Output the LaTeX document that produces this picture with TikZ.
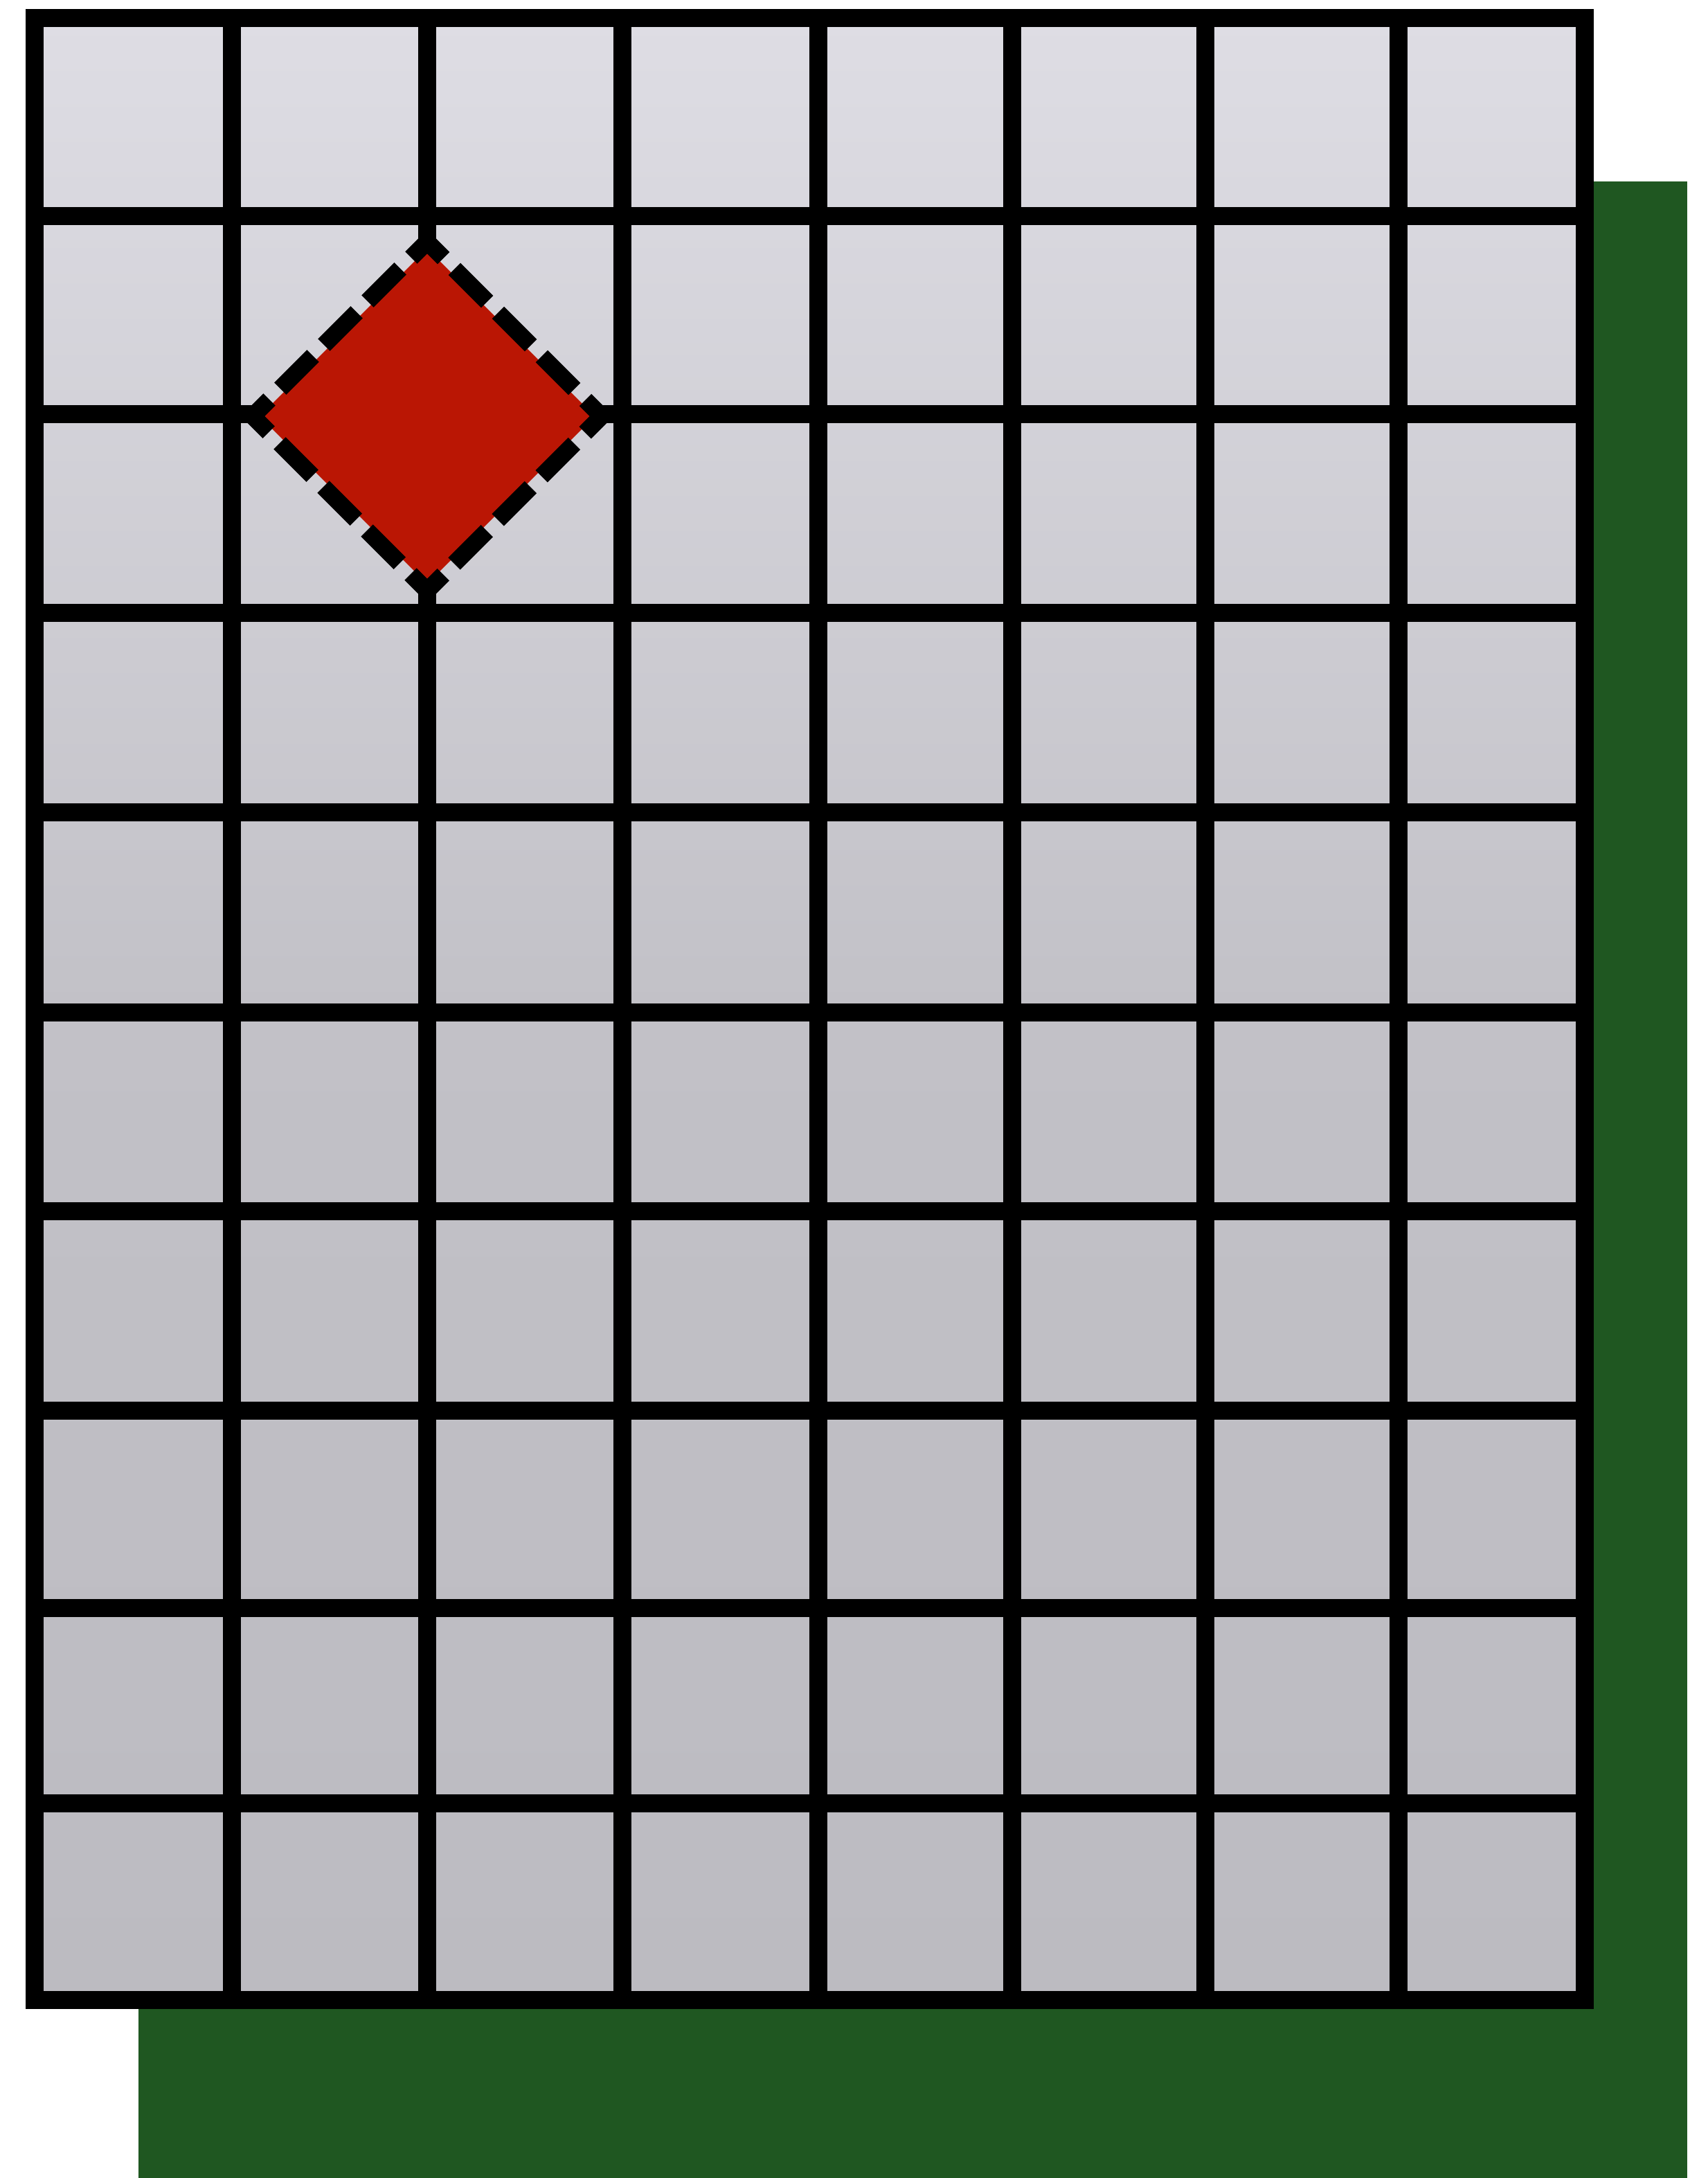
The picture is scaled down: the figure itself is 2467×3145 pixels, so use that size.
\documentclass[tikz,border=0pt]{standalone}
\begin{document}
\begin{tikzpicture}[x=0.01cm,y=-0.01cm,
  gridline/.style={line width=7.2pt,black},
  diamondline/.style={line width=7pt,black,dash pattern=on 19pt off 6.35pt,dash phase=9.5pt,line join=miter}]
\definecolor{leaf}{RGB}{31,87,33}
\definecolor{diamondred}{RGB}{186,22,4}
\definecolor{celltop}{RGB}{222,221,228}
\definecolor{cellmid}{RGB}{194,193,199}
\definecolor{cellbot}{RGB}{188,187,193}
\useasboundingbox (0,0) rectangle (2467,3145);
% green backing sheet
\fill[leaf] (200,262) rectangle (2437,3145);
% grey panel
\shade[top color=celltop,bottom color=cellbot,middle color=cellmid] (50,26) rectangle (2289,2888);
% grid
\foreach \x in {335,617,899,1182,1462,1741,2020}
  \draw[gridline] (\x,26) -- (\x,2888);
\foreach \y in {312,598,885,1173,1462,1749,2037,2322,2604}
  \draw[gridline] (50,\y) -- (2289,\y);
\draw[gridline] (50,26) rectangle (2289,2888);
% diamond
\fill[diamondred] (617,359) -- (859,601) -- (617,843) -- (375,601) -- cycle;
\draw[diamondline] (617,349) -- (869,601) -- (617,853) -- (365,601) -- cycle;
\end{tikzpicture}
\end{document}
